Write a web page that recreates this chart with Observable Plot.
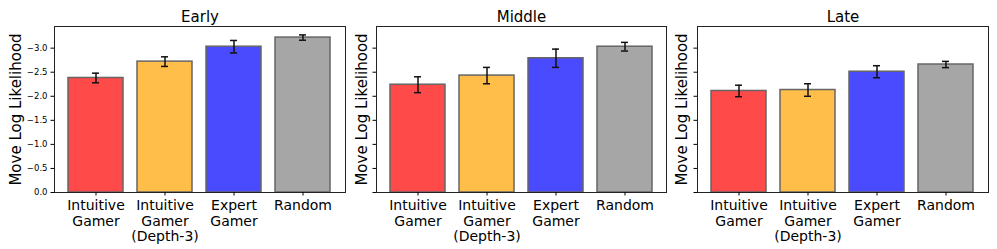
<!DOCTYPE html>
<html>
<head>
<meta charset="utf-8">
<script src="https://cdn.jsdelivr.net/npm/d3@7"></script>
<script src="https://cdn.jsdelivr.net/npm/@observablehq/plot@0.6"></script>
<style>
  html, body { margin: 0; padding: 0; background: #fff; }
  #wrap { position: relative; width: 997px; height: 249px; overflow: hidden; }
  #wrap svg { position: absolute; top: 0; }
</style>
</head>
<body>
<div id="wrap"></div>
<script>
// ---- data ----
const categories = ["Intuitive\nGamer", "Intuitive\nGamer\n(Depth-3)", "Expert\nGamer", "Random"];
const phases = ["Early", "Middle", "Late"];
const earlyMean  = [-2.38, -2.72, -3.03, -3.22];
const earlyErr   = [0.10, 0.10, 0.13, 0.055];
const middleMean = [-2.24, -2.43, -2.79, -3.03];
const middleErr  = [0.165, 0.17, 0.19, 0.09];
const lateMean   = [-2.11, -2.13, -2.51, -2.66];
const lateErr    = [0.12, 0.13, 0.125, 0.065];
const yTicks = [0, -0.5, -1.0, -1.5, -2.0, -2.5, -3.0];
const yLabel = "Move Log Likelihood";

// ---- styles / layout ----
const barColors = ["#ff4a4a", "#ffbd4a", "#4a4aff", "#a6a6a6"];
const panels = [
  {title: phases[0], mean: earlyMean,  err: earlyErr,  left: 0,   width: 347, ml: 54, mr: 2, labels: true,  ldx: -38.5},
  {title: phases[1], mean: middleMean, err: middleErr, left: 347, width: 321, ml: 29, mr: 2, labels: false, ldx: -14.5},
  {title: phases[2], mean: lateMean,   err: lateErr,   left: 668, width: 329, ml: 29, mr: 9, labels: false, ldx: -15}
];
const fmt = d3.format(".1f");
const wrap = document.getElementById("wrap");

for (const p of panels) {
  const rows = categories.map((c, i) => ({cat: c, mean: p.mean[i], lo: p.mean[i] - p.err[i], hi: p.mean[i] + p.err[i]}));
  const chart = Plot.plot({
    width: p.width,
    height: 249,
    marginLeft: p.ml,
    marginRight: p.mr,
    marginTop: 26,
    marginBottom: 57,
    style: {fontFamily: "DejaVu Sans", background: "transparent", color: "#000", overflow: "visible"},
    x: {domain: categories, paddingInner: 0.2, paddingOuter: 0.19},
    y: {domain: [0, -3.45]},
    color: {domain: categories, range: barColors},
    marks: [
      Plot.barY(rows, {x: "cat", y1: 0, y2: "mean", fill: "cat", stroke: "#666", strokeWidth: 1.5}),
      Plot.ruleX(rows, {x: "cat", y1: "lo", y2: "hi", stroke: "#111", strokeWidth: 1.5}),
      Plot.tickY(rows, {x: "cat", y: "lo", stroke: "#111", strokeWidth: 1.5, insetLeft: 24, insetRight: 24}),
      Plot.tickY(rows, {x: "cat", y: "hi", stroke: "#111", strokeWidth: 1.5, insetLeft: 24, insetRight: 24}),
      Plot.frame({stroke: "#222", strokeWidth: 1}),
      Plot.axisY({ticks: yTicks, tickSize: 3.5, tickPadding: 3.5, fontSize: 8.5,
                  tickFormat: p.labels ? (d => fmt(d)) : (() => ""), label: null}),
      Plot.axisX({tickSize: 3.5, tickPadding: 3, fontSize: 14, lineHeight: 1.12, label: null}),
      Plot.text([p.title], {frameAnchor: "top", dy: -9.5, lineAnchor: "middle", fontSize: 15, text: d => d}),
      Plot.text([yLabel], {frameAnchor: "left", dx: p.ldx, rotate: -90, lineAnchor: "middle", textAnchor: "middle", fontSize: 15, text: d => d})
    ]
  });
  chart.style.left = p.left + "px";
  wrap.appendChild(chart);
}
</script>
</body>
</html>
